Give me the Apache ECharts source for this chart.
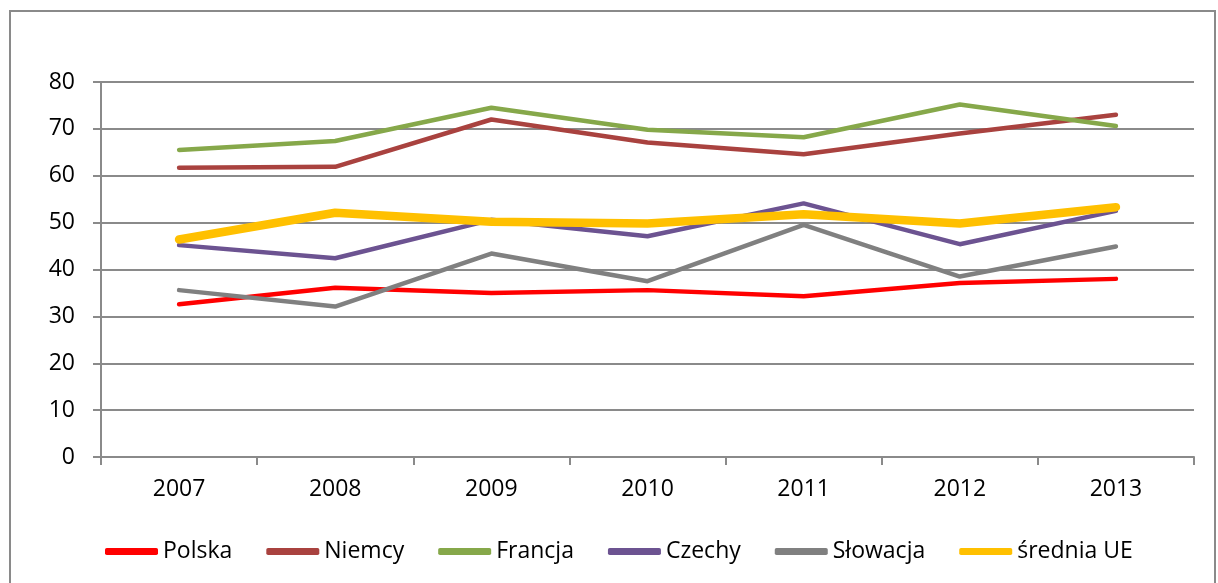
<!DOCTYPE html>
<html>
<head>
<meta charset="utf-8">
<script src="https://cdn.jsdelivr.net/npm/echarts@6/dist/echarts.min.js"></script>
<style>
  html, body { margin: 0; padding: 0; background: #fff; }
  #chart { width: 1218px; height: 583px; }
</style>
</head>
<body>
<div id="chart"></div>
<script>
// data
const years = ["2007", "2008", "2009", "2010", "2011", "2012", "2013"];
const yTicks = [0, 10, 20, 30, 40, 50, 60, 70, 80];
const polska = [32.6, 36.1, 35.0, 35.6, 34.3, 37.1, 38.0];
const niemcy = [61.7, 61.9, 72.0, 67.1, 64.6, 69.0, 73.0];
const francja = [65.5, 67.4, 74.5, 69.8, 68.2, 75.2, 70.6];
const czechy = [45.2, 42.4, 50.6, 47.1, 54.1, 45.4, 52.5];
const slowacja = [35.6, 32.1, 43.4, 37.5, 49.5, 38.5, 44.9];
const sredniaUE = [46.4, 52.1, 50.2, 49.8, 51.8, 49.8, 53.3];

const font = "'Open Sans', 'Noto Sans', sans-serif";
const gridColor = "#8a8a8a";

function line(name, data, color, width) {
  return {
    name: name,
    type: "line",
    data: data,
    showSymbol: false,
    symbol: "none",
    lineStyle: { color: color, width: width, cap: "round", join: "round" },
    itemStyle: { color: color }
  };
}

const chart = echarts.init(document.getElementById("chart"));
chart.setOption({
  backgroundColor: "#ffffff",
  animation: false,
  graphic: [{
    type: "rect",
    shape: { x: 10, y: 11, width: 1205, height: 620 },
    style: { fill: "none", stroke: gridColor, lineWidth: 2 },
    silent: true
  }],
  grid: { left: 101, right: 24, top: 82, bottom: 126, containLabel: false },
  legend: {
    left: 100,
    top: 535,
    icon: "roundRect",
    itemWidth: 53,
    itemHeight: 7,
    itemGap: 34,
    textStyle: { fontFamily: font, fontSize: 23, color: "#000" },
    data: ["Polska", "Niemcy", "Francja", "Czechy", "Słowacja", "średnia UE"]
  },
  xAxis: {
    type: "category",
    data: years,
    boundaryGap: true,
    axisLine: { lineStyle: { color: gridColor, width: 2 } },
    axisTick: { show: true, length: 8, lineStyle: { color: gridColor, width: 2 } },
    axisLabel: { margin: 21, fontFamily: font, fontSize: 23, color: "#000" }
  },
  yAxis: {
    type: "value",
    min: yTicks[0],
    max: yTicks[yTicks.length - 1],
    interval: 10,
    axisLine: { show: true, lineStyle: { color: gridColor, width: 2 } },
    axisTick: { show: true, length: 8, lineStyle: { color: gridColor, width: 2 } },
    splitLine: { lineStyle: { color: gridColor, width: 2 } },
    axisLabel: { margin: 26, fontFamily: font, fontSize: 23, color: "#000" }
  },
  series: [
    line("Polska", polska, "#ff0000", 4.5),
    line("Niemcy", niemcy, "#a9423f", 4.5),
    line("Francja", francja, "#86a84a", 4.5),
    line("Czechy", czechy, "#6c5391", 4.5),
    line("Słowacja", slowacja, "#808080", 4.5),
    line("średnia UE", sredniaUE, "#ffc000", 8.5)
  ]
});
</script>
</body>
</html>
